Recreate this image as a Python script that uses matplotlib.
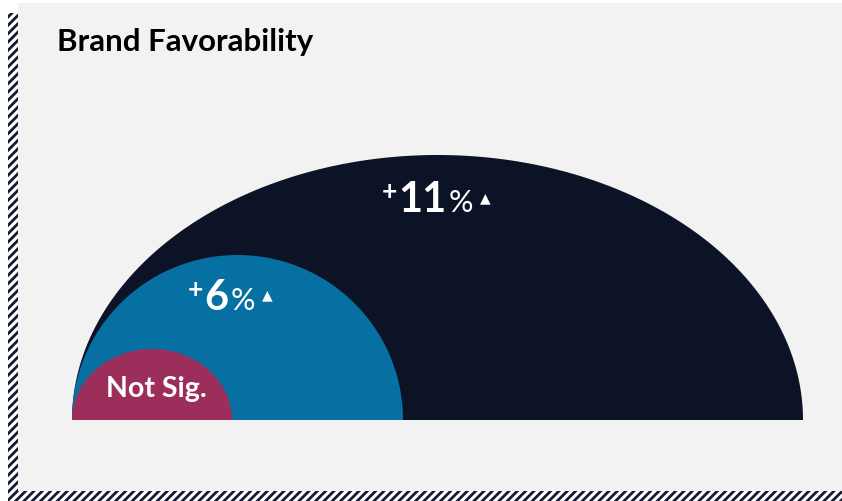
import numpy as np
import matplotlib
matplotlib.use("Agg")
import matplotlib.pyplot as plt
from matplotlib.patches import Rectangle, Polygon

plt.rcParams['font.family'] = ['Lato', 'DejaVu Sans']
plt.rcParams['hatch.linewidth'] = 2.0

# data
title = "Brand Favorability"
lifts = [11, 6, None]          # percentage-point lift, None = not significant
significant = [True, True, False]
colors = ["#0d1326", "#0770a3", "#9c2e5b"]

# layout (pixel units, y grows downward)
W, H = 842, 501
base_x, base_y = 72, 420
half_widths = [365.5, 165.5, 80]
heights = [265, 165, 71]
label_dx = [-1, -7, 4]
label_hfrac = [0.84, 0.76, 0.44]

fig = plt.figure(figsize=(W / 100, H / 100), dpi=100)
fig.patch.set_facecolor("white")
ax = fig.add_axes([0, 0, 1, 1])
ax.set_xlim(0, W)
ax.set_ylim(H, 0)
ax.axis("off")

# hatched shadow border (left and bottom)
hatch_col = "#141a33"
for x0, y0, w, h in [(8, 13, 10, H - 13), (8, 491, W - 8, 10)]:
    ax.add_patch(Rectangle((x0, y0), w, h, facecolor="white", edgecolor=hatch_col,
                           hatch="////", lw=0, zorder=0))
ax.add_patch(Rectangle((18, 3), W - 18, 488, facecolor="#f2f2f2", lw=0, zorder=1))

ax.text(57, 42, title, fontsize=22.5, fontweight="bold", color="black",
        va="center", ha="left", zorder=5)

# half ellipses
t = np.linspace(0, np.pi, 400)
for a, h, c in zip(half_widths, heights, colors):
    cx = base_x + a
    pts = np.column_stack([cx + a * np.cos(t), base_y - h * np.sin(t)])
    ax.add_patch(Polygon(pts, closed=True, facecolor=c, edgecolor="none", zorder=2))

fig.canvas.draw()
renderer = fig.canvas.get_renderer()
inv = ax.transData.inverted()


def place_pieces(pieces, cx, cy):
    # draw pieces left to right, then shift so the group is centred on cx
    texts = []
    x = 0
    for s, size, weight, dy, gap in pieces:
        tx = ax.text(x + gap, cy - dy, s, fontsize=size, fontweight=weight, color="white",
                     ha="left", va="baseline", zorder=6)
        bb = tx.get_window_extent(renderer)
        x1 = inv.transform((bb.x1, bb.y1))[0]
        texts.append(tx)
        x = x1
    total = x
    for tx in texts:
        px, py = tx.get_position()
        tx.set_position((px + cx - total / 2, py))


for a, h, lift, sig, dx, hf in zip(half_widths, heights, lifts, significant, label_dx, label_hfrac):
    cx = base_x + a + dx
    cy = base_y - h * hf
    if lift is None:
        ax.text(cx, cy, "Not Sig.", fontsize=20.5, fontweight="bold", color="white",
                ha="center", va="center", zorder=6)
        continue
    pieces = [("+", 19, "bold", 12, 0),
              (str(lift), 30, "bold", 0, 1),
              ("%", 22, "normal", 0, 2)]
    if sig:
        pieces.append(("▲", 10, "normal", 10, 7))
    place_pieces(pieces, cx, cy + 15)

fig.savefig("out.png", dpi=100, facecolor=fig.get_facecolor())
